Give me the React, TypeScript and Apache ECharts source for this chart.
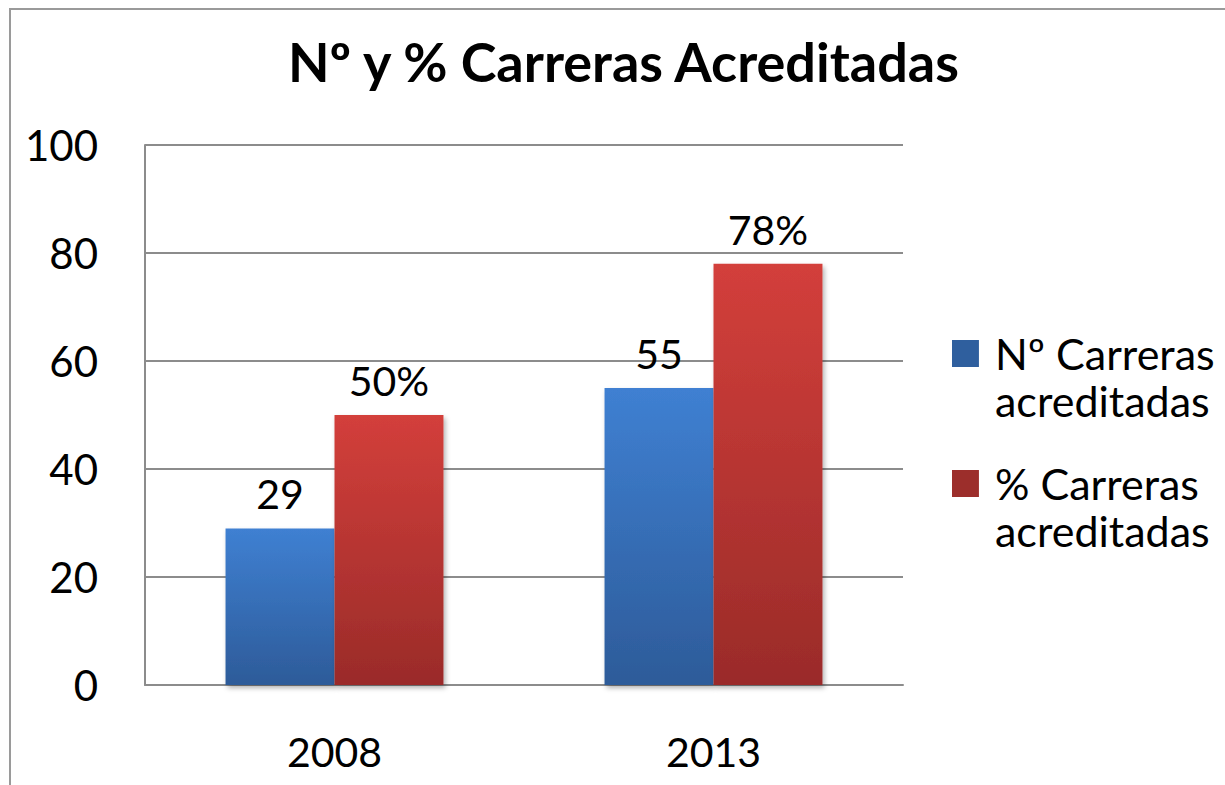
import React, { useEffect, useRef } from "react";
import * as echarts from "echarts";

const titleText = "Nº y % Carreras Acreditadas";
const categories = ["2008", "2013"];
const seriesNames = ["Nº Carreras acreditadas", "% Carreras acreditadas"];
const countValues = [29, 55];
const percentValues = [50, 78];
const yMin = 0;
const yMax = 100;
const yInterval = 20;

const FONT = "Lato, 'Open Sans', sans-serif";

export default function App() {
  const ref = useRef<HTMLDivElement>(null);
  useEffect(() => {
    document.body.style.margin = "0";
    const chart = echarts.init(ref.current!, null, { renderer: "svg" });
    const legendIcon = "path://M0,0h27v27h-27z M38,73.9h0.1v0.1h-0.1z";
    const blueGrad = new echarts.graphic.LinearGradient(0, 0, 0, 1, [
      { offset: 0, color: "#3f80d2" },
      { offset: 1, color: "#2d5b99" },
    ]);
    const redGrad = new echarts.graphic.LinearGradient(0, 0, 0, 1, [
      { offset: 0, color: "#d33f3b" },
      { offset: 1, color: "#9a2b29" },
    ]);
    const shadow = {
      shadowBlur: 5,
      shadowOffsetX: 2,
      shadowOffsetY: 3,
      shadowColor: "rgba(0,0,0,0.3)",
    };
    chart.setOption({
      animation: false,
      backgroundColor: "#ffffff",
      textStyle: { fontFamily: FONT },
      graphic: [
        {
          type: "rect",
          shape: { x: 10, y: 9, width: 1400, height: 1000 },
          style: { fill: "none", stroke: "#9a9a9a", lineWidth: 2 },
          silent: true,
          z: -1,
        },
      ],
      title: {
        text: titleText,
        left: 288,
        top: 34,
        padding: 0,
        textStyle: { fontFamily: FONT, fontWeight: "bold", fontSize: 54, color: "#000" },
      },
      legend: {
        orient: "vertical",
        left: 952,
        top: 330,
        padding: 0,
        itemGap: 36,
        itemWidth: 38,
        itemHeight: 74,
        icon: legendIcon,
        selectedMode: false,
        formatter: (name: string) => name.replace(" acreditadas", "\nacreditadas"),
        textStyle: { fontFamily: FONT, fontSize: 43, lineHeight: 47, color: "#000" },
        data: [
          { name: seriesNames[0], itemStyle: { color: "#2f5f9e", shadowBlur: 0, shadowOffsetX: 0, shadowOffsetY: 0 } },
          { name: seriesNames[1], itemStyle: { color: "#9c2e2b", shadowBlur: 0, shadowOffsetX: 0, shadowOffsetY: 0 } },
        ],
      },
      grid: { left: 145, right: 322, top: 145, bottom: 100, containLabel: false },
      xAxis: {
        type: "category",
        data: categories,
        axisLine: { show: true, lineStyle: { color: "#8c8c8c", width: 2 } },
        axisTick: { show: false },
        axisLabel: { margin: 46, fontSize: 41, color: "#000", fontFamily: FONT },
      },
      yAxis: {
        type: "value",
        min: yMin,
        max: yMax,
        interval: yInterval,
        axisLine: { show: true, lineStyle: { color: "#8c8c8c", width: 2 } },
        axisTick: { show: false },
        axisLabel: { margin: 47, fontSize: 42, color: "#000", fontFamily: FONT },
        splitLine: { show: true, lineStyle: { color: "#8c8c8c", width: 2 } },
      },
      series: [
        {
          name: seriesNames[0],
          type: "bar",
          data: countValues,
          barGap: "0%",
          barCategoryGap: "42.5%",
          itemStyle: { color: blueGrad, ...shadow },
          label: {
            show: true,
            position: "top",
            distance: 14,
            fontSize: 41,
            color: "#000",
            fontFamily: FONT,
            formatter: "{c}",
          },
        },
        {
          name: seriesNames[1],
          type: "bar",
          data: percentValues,
          barGap: "0%",
          barCategoryGap: "42.5%",
          itemStyle: { color: redGrad, ...shadow },
          label: {
            show: true,
            position: "top",
            distance: 14,
            fontSize: 41,
            color: "#000",
            fontFamily: FONT,
            formatter: "{c}%",
          },
        },
      ],
    });
    return () => chart.dispose();
  }, []);
  return <div ref={ref} style={{ width: 1225, height: 785 }} />;
}
